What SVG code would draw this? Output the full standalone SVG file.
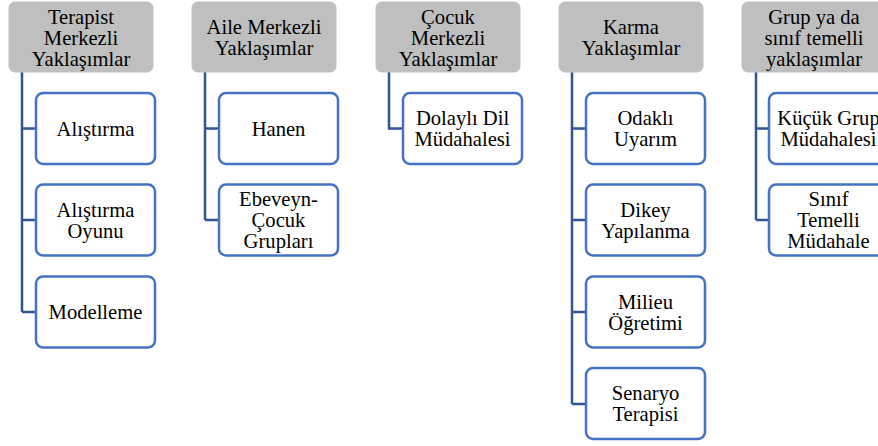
<svg xmlns="http://www.w3.org/2000/svg" width="878" height="446" viewBox="0 0 878 446">
<style>
.hdr{fill:#BFBFBF;stroke:#BFBFBF;stroke-width:1}
.box{fill:#FFFFFF;stroke:#4472C4;stroke-width:2.5}
.con{fill:none;stroke:#2F5597;stroke-width:2.5}
.t text{font-size:20.6px;fill:#000;text-anchor:middle}
</style>
<rect width="878" height="446" fill="#FFFFFF"/>
<g id="connectors">
<path class="con" d="M22,72V312M22,128.5H36M22,220H36M22,312H36"/>
<path class="con" d="M205,72V220M205,128.5H219M205,220H219"/>
<path class="con" d="M389,72V128.5H403"/>
<path class="con" d="M572,72V404M572,128.5H586M572,220H586M572,312H586M572,404H586"/>
<path class="con" d="M756,72V220M756,128.5H769M756,220H769"/>
</g>
<g class="t" font-family="'Liberation Serif', 'Times New Roman', Tinos, 'DejaVu Serif', serif">
<g id="h1"><rect class="hdr" x="9" y="2" width="144" height="70" rx="6"/><text x="81" y="23.5">Terapist</text><text x="81" y="44.5">Merkezli</text><text x="81" y="65.5">Yaklaşımlar</text></g>
<g id="h2"><rect class="hdr" x="192" y="2" width="144" height="70" rx="6"/><text x="264" y="33.5">Aile Merkezli</text><text x="264" y="54.5">Yaklaşımlar</text></g>
<g id="h3"><rect class="hdr" x="376" y="2" width="144" height="70" rx="6"/><text x="448" y="23.5">Çocuk</text><text x="448" y="44.5">Merkezli</text><text x="448" y="65.5">Yaklaşımlar</text></g>
<g id="h4"><rect class="hdr" x="559" y="2" width="144" height="70" rx="6"/><text x="631" y="33.5">Karma</text><text x="631" y="54.5">Yaklaşımlar</text></g>
<g id="h5"><rect class="hdr" x="742" y="2" width="144" height="70" rx="6"/><text x="814" y="23.5">Grup ya da</text><text x="814" y="44.5">sınıf temelli</text><text x="814" y="65.5">yaklaşımlar</text></g>

<g id="c1a"><rect class="box" x="36" y="93" width="119" height="71" rx="7"/><text x="95.5" y="135.5">Alıştırma</text></g>
<g id="c1b"><rect class="box" x="36" y="184.5" width="119" height="71" rx="7"/><text x="95.5" y="216.5">Alıştırma</text><text x="95.5" y="237.5">Oyunu</text></g>
<g id="c1c"><rect class="box" x="36" y="276.5" width="119" height="71" rx="7"/><text x="95.5" y="319">Modelleme</text></g>

<g id="c2a"><rect class="box" x="219" y="93" width="119" height="71" rx="7"/><text x="278.5" y="135.5">Hanen</text></g>
<g id="c2b"><rect class="box" x="219" y="184.5" width="119" height="71" rx="7"/><text x="278.5" y="206">Ebeveyn-</text><text x="278.5" y="227">Çocuk</text><text x="278.5" y="248">Grupları</text></g>

<g id="c3a"><rect class="box" x="403" y="93" width="119" height="71" rx="7"/><text x="462.5" y="125">Dolaylı Dil</text><text x="462.5" y="146">Müdahalesi</text></g>

<g id="c4a"><rect class="box" x="586" y="93" width="119" height="71" rx="7"/><text x="645.5" y="125">Odaklı</text><text x="645.5" y="146">Uyarım</text></g>
<g id="c4b"><rect class="box" x="586" y="184.5" width="119" height="71" rx="7"/><text x="645.5" y="216.5">Dikey</text><text x="645.5" y="237.5">Yapılanma</text></g>
<g id="c4c"><rect class="box" x="586" y="276.5" width="119" height="71" rx="7"/><text x="645.5" y="308.5">Milieu</text><text x="645.5" y="329.5">Öğretimi</text></g>
<g id="c4d"><rect class="box" x="586" y="368" width="119" height="71" rx="7"/><text x="645.5" y="400">Senaryo</text><text x="645.5" y="421">Terapisi</text></g>

<g id="c5a"><rect class="box" x="769" y="93" width="119" height="71" rx="7"/><text x="828.5" y="125">Küçük Grup</text><text x="828.5" y="146">Müdahalesi</text></g>
<g id="c5b"><rect class="box" x="769" y="184.5" width="119" height="71" rx="7"/><text x="828.5" y="206">Sınıf</text><text x="828.5" y="227">Temelli</text><text x="828.5" y="248">Müdahale</text></g>
</g>
</svg>
